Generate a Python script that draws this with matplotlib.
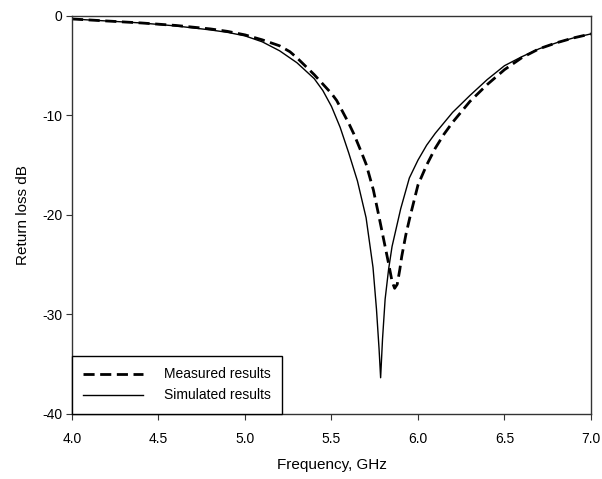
import numpy as np
import matplotlib
matplotlib.use("Agg")
import matplotlib.pyplot as plt

plt.rcParams['font.family'] = ['Liberation Sans', 'DejaVu Sans']
plt.rcParams['axes.unicode_minus'] = False

# measured curve (dashed)
freq_meas = [4.0, 4.2, 4.4, 4.6, 4.8, 4.9, 5.0, 5.1, 5.2, 5.26, 5.3, 5.4, 5.5,
             5.53, 5.6, 5.63, 5.675, 5.7, 5.742, 5.77, 5.79, 5.83, 5.85, 5.865,
             5.88, 5.895, 5.906, 5.93, 5.954, 6.0, 6.05, 6.1, 6.15, 6.2, 6.3,
             6.4, 6.5, 6.6, 6.7, 6.8, 6.9, 7.0]
rl_meas = [-0.3, -0.5, -0.7, -0.95, -1.3, -1.55, -1.9, -2.4, -3.0, -3.6, -4.2,
           -5.9, -7.8, -8.5, -10.8, -11.9, -13.8, -14.9, -17.5, -19.8, -21.5,
           -24.9, -26.7, -27.4, -27.0, -25.5, -24.2, -22.0, -20.2, -17.0, -15.0,
           -13.3, -11.9, -10.7, -8.6, -6.9, -5.4, -4.2, -3.3, -2.7, -2.2, -1.8]

# simulated curve (solid)
freq_sim = [4.0, 4.2, 4.4, 4.6, 4.8, 4.9, 5.0, 5.1, 5.2, 5.3, 5.4, 5.45, 5.5,
            5.55, 5.6, 5.65, 5.7, 5.74, 5.76, 5.775, 5.784, 5.795, 5.81, 5.83,
            5.85, 5.9, 5.95, 6.0, 6.05, 6.1, 6.2, 6.3, 6.4, 6.5, 6.6, 6.7, 6.8,
            6.9, 7.0]
rl_sim = [-0.3, -0.5, -0.7, -1.0, -1.4, -1.65, -2.0, -2.6, -3.5, -4.7, -6.3,
          -7.5, -9.1, -11.2, -13.8, -16.6, -20.3, -25.3, -29.5, -33.5, -36.4,
          -32.5, -28.5, -25.5, -23.2, -19.4, -16.3, -14.5, -13.0, -11.8, -9.7,
          -8.0, -6.4, -5.0, -4.1, -3.3, -2.7, -2.2, -1.8]

xticks = [4.0, 4.5, 5.0, 5.5, 6.0, 6.5, 7.0]
yticks = [0, -10, -20, -30, -40]

fig = plt.figure(figsize=(6.02, 4.79), dpi=100)
ax = fig.add_axes([0.1196, 0.1367, 0.8621, 0.8299])

l1, = ax.plot(freq_meas, rl_meas, color='black', lw=2.0, label='Measured results')
l1.set_dashes((4, 2))
ax.plot(freq_sim, rl_sim, color='black', lw=1.0, label='Simulated results')

ax.set_xlim(4.0, 7.0)
ax.set_ylim(-40, 0)
ax.set_xticks(xticks)
ax.set_xticklabels(['%.1f' % t for t in xticks])
ax.set_yticks(yticks)

for s in ax.spines.values():
    s.set_color('#333333')
    s.set_linewidth(1.0)

ax.tick_params(axis='x', direction='out', length=4, pad=9, labelsize=10, color='#333333')
ax.tick_params(axis='y', direction='out', length=4, pad=3, labelsize=10, color='#333333')

ax.set_xlabel('Frequency, GHz', fontsize=11, labelpad=9)
ax.set_ylabel('Return loss dB', fontsize=11, labelpad=9)

leg = ax.legend(loc='lower left', bbox_to_anchor=(0, 0), borderaxespad=0,
                fancybox=False, edgecolor='black', fontsize=10,
                handlelength=4.3, handletextpad=1.5, labelspacing=0.5,
                borderpad=0.8, framealpha=1)
leg.get_frame().set_linewidth(1.0)

fig.savefig('out.png', dpi=100)
